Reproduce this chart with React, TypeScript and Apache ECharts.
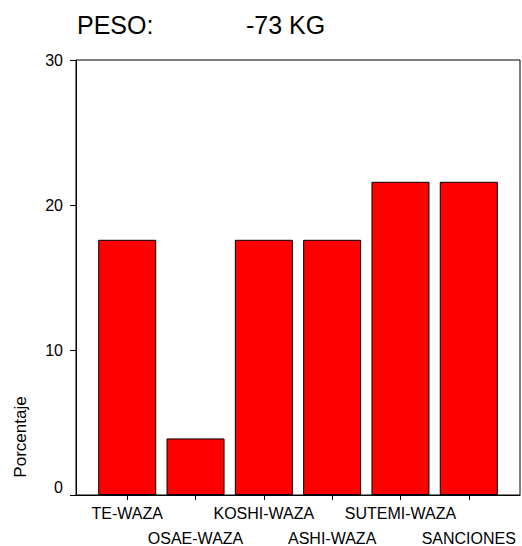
import React, { useEffect, useRef } from "react";
import * as echarts from "echarts";

const categories = ["TE-WAZA", "OSAE-WAZA", "KOSHI-WAZA", "ASHI-WAZA", "SUTEMI-WAZA", "SANCIONES"];
const percentages = [17.6, 3.9, 17.6, 17.6, 21.6, 21.6];
const yTicks = [0, 10, 20, 30];
const titleLeft = "PESO:";
const titleRight = "-73 KG";
const yName = "Porcentaje";

export default function App() {
  const ref = useRef<HTMLDivElement>(null);
  useEffect(() => {
    if (!ref.current) return;
    const chart = echarts.init(ref.current, null, { renderer: "svg" });
    const font = "'Liberation Sans', Arial, sans-serif";
    const positions = categories.map((_, i) => i);
    const evenPos = positions.filter((i) => i % 2 === 0);
    const oddPos = positions.filter((i) => i % 2 === 1);
    const labelBase = {
      showMinLabel: true,
      showMaxLabel: true,
      hideOverlap: false,
      color: "#000",
      fontFamily: font,
      fontSize: 16,
      formatter: (v: number) => categories[Math.round(v)] ?? "",
    };
    chart.setOption({
      animation: false,
      backgroundColor: "#ffffff",
      textStyle: { fontFamily: font },
      grid: {
        left: 76,
        right: 2,
        top: 60,
        bottom: 51,
        containLabel: false,
        outerBoundsMode: "none",
        show: true,
        borderColor: "#000",
        borderWidth: 1,
        backgroundColor: "transparent",
      },
      xAxis: [
        {
          type: "value",
          position: "bottom",
          min: -0.75,
          max: 5.75,
          splitLine: { show: false },
          axisLine: { show: true, onZero: false, lineStyle: { color: "#000", width: 1 } },
          axisTick: {
            show: true,
            length: 5,
            lineStyle: { color: "#000" },
            customValues: positions,
          },
          axisLabel: { ...labelBase, customValues: evenPos, margin: 10 },
        },
        {
          type: "value",
          position: "bottom",
          min: -0.75,
          max: 5.75,
          splitLine: { show: false },
          axisLine: { show: false, onZero: false },
          axisTick: { show: false },
          axisLabel: { ...labelBase, customValues: oddPos, margin: 35 },
        },
      ],
      yAxis: {
        type: "value",
        min: yTicks[0],
        max: yTicks[yTicks.length - 1],
        interval: 10,
        splitLine: { show: false },
        axisLine: { show: true, onZero: false, lineStyle: { color: "#000", width: 1 } },
        axisTick: { show: true, length: 6, lineStyle: { color: "#000" } },
        axisLabel: {
          margin: 13,
          color: "#000",
          fontFamily: font,
          fontSize: 16,
          verticalAlignMinLabel: "bottom",
        },
      },
      series: [
        {
          type: "bar",
          xAxisIndex: 0,
          data: percentages.map((v, i) => [i, v]),
          barWidth: 58,
          itemStyle: { color: "#ff0000", borderColor: "#000", borderWidth: 1 },
        },
      ],
      graphic: [
        {
          type: "text",
          left: 77,
          top: 12,
          style: { text: titleLeft, font: `25px ${font}`, fill: "#000" },
        },
        {
          type: "text",
          left: 246,
          top: 12,
          style: { text: titleRight, font: `25px ${font}`, fill: "#000" },
        },
        {
          type: "text",
          x: 20,
          y: 437,
          rotation: Math.PI / 2,
          style: {
            text: yName,
            font: `17px ${font}`,
            fill: "#000",
            align: "center",
            verticalAlign: "middle",
          },
        },
      ],
    });
    return () => chart.dispose();
  }, []);
  return (
    <div
      ref={ref}
      style={{ position: "fixed", left: 0, top: 0, width: 522, height: 546, background: "#fff" }}
    />
  );
}
